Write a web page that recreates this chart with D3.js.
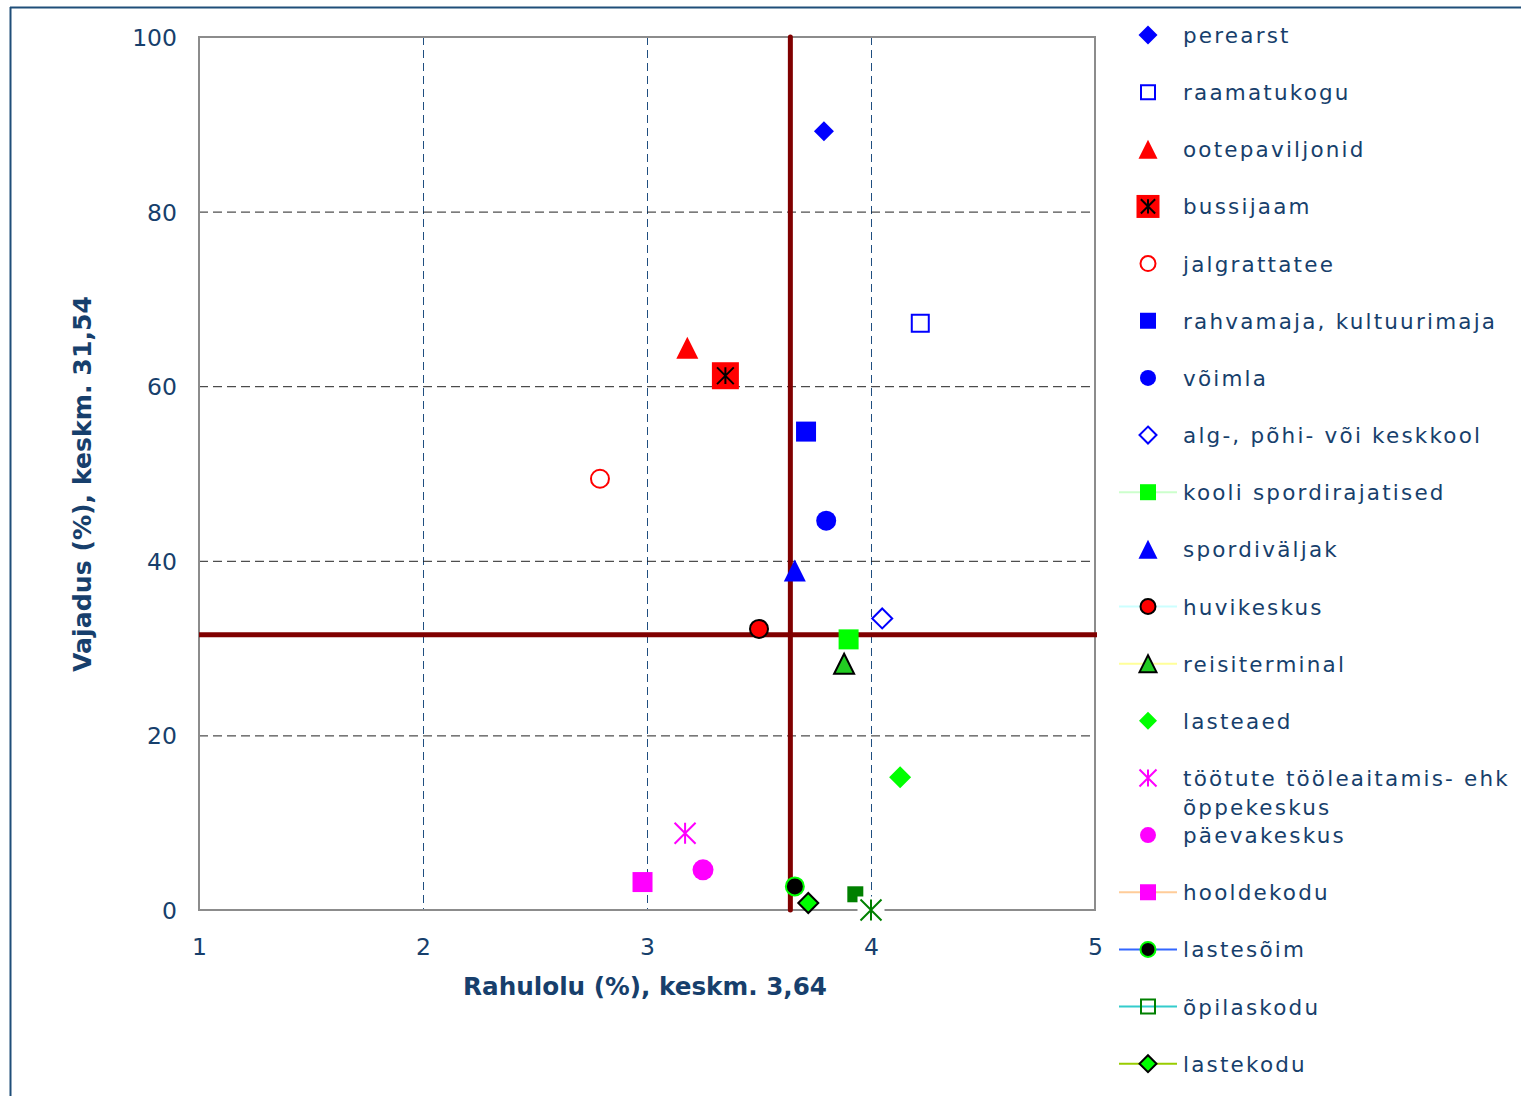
<!DOCTYPE html>
<html>
<head>
<meta charset="utf-8">
<script src="https://cdn.jsdelivr.net/npm/d3@7"></script>
<style>
  html, body { margin: 0; padding: 0; background: #fff; }
  svg { display: block; }
</style>
</head>
<body>
<svg id="chart" width="1521" height="1096"></svg>
<script>
// ---------------- DATA ----------------
const seriesNames = [
  "perearst", "raamatukogu", "ootepaviljonid", "bussijaam", "jalgrattatee",
  "rahvamaja, kultuurimaja", "võimla", "alg-, põhi- või keskkool",
  "kooli spordirajatised", "spordiväljak", "huvikeskus", "reisiterminal",
  "lasteaed", "töötute tööleaitamis- ehk\nõppekeskus", "päevakeskus",
  "hooldekodu", "lastesõim", "õpilaskodu", "lastekodu"
];
const rahulolu = [3.79, 4.22, 3.18, 3.35, 2.79, 3.71, 3.80, 4.05, 3.90, 3.66, 3.50, 3.88, 4.13, 3.17, 3.25, 2.98, 3.66, 3.93, 3.72];
const vajadus  = [89.2, 67.2, 64.4, 61.2, 49.4, 54.8, 44.6, 33.4, 31.0, 38.9, 32.2, 28.2, 15.2, 8.8, 4.6, 3.2, 2.7, 1.8, 0.8];
// an additional point without a legend entry
const extraRahulolu = [4.0];
const extraVajadus = [0];

const meanRahulolu = 3.64;
const meanVajadus = 31.54;

const xTicks = [1, 2, 3, 4, 5];
const yTicks = [0, 20, 40, 60, 80, 100];
const xTitle = "Rahulolu (%), keskm. 3,64";
const yTitle = "Vajadus (%), keskm. 31,54";

// ---------------- STYLES ----------------
const styles = [
  {shape: "diamond", size: 20, lsize: 19, fill: "#0000ff", stroke: "none"},
  {shape: "square", size: 17, lsize: 14, fill: "none", stroke: "#0000ff", sw: 2},
  {shape: "triangle", size: 22, lsize: 19, fill: "#ff0000", stroke: "none"},
  {shape: "sqast", size: 27, lsize: 23, fill: "#ff0000", stroke: "#000"},
  {shape: "circle", size: 18, lsize: 15, fill: "none", stroke: "#ff0000", sw: 2},
  {shape: "square", size: 20, lsize: 16, fill: "#0000ff", stroke: "none"},
  {shape: "circle", size: 20, lsize: 16, fill: "#0000ff", stroke: "none"},
  {shape: "diamond", size: 20, lsize: 17, fill: "none", stroke: "#0000ff", sw: 2},
  {shape: "square", size: 20, lsize: 16, fill: "#00ff00", stroke: "none", line: "#ccffcc"},
  {shape: "triangle", size: 22, lsize: 19, fill: "#0000ff", stroke: "none"},
  {shape: "circle", size: 18, lsize: 15, fill: "#ff0000", stroke: "#000", sw: 2, line: "#ccffff"},
  {shape: "triangle", size: 20, lsize: 17, fill: "#22cc22", stroke: "#000", sw: 2, line: "#ffff99"},
  {shape: "diamond", size: 22, lsize: 18, fill: "#00ff00", stroke: "none"},
  {shape: "asterisk", size: 21, lsize: 17, fill: "none", stroke: "#ff00ff", sw: 2},
  {shape: "circle", size: 21, lsize: 16, fill: "#ff00ff", stroke: "none"},
  {shape: "square", size: 20, lsize: 16, fill: "#ff00ff", stroke: "none", line: "#ffcc99"},
  {shape: "circle", size: 18, lsize: 15, fill: "#000000", stroke: "#00ff00", sw: 2, line: "#3366ff"},
  {shape: "square", size: 16, lsize: 14, fill: "#008000", stroke: "none", lfill: "none", lstroke: "#008000", sw: 2, line: "#33cccc"},
  {shape: "diamond", size: 20, lsize: 17, fill: "#00ff00", stroke: "#000", sw: 2, line: "#99cc00"}
];
const extraStyle = {shape: "asterisk", size: 21, fill: "none", stroke: "#008000", sw: 2, bg: 27};

const textColor = "#173f6c";

// ---------------- LAYOUT ----------------
const svg = d3.select("#chart");
const plot = {left: 199, right: 1095, top: 37, bottom: 910};
const x = d3.scaleLinear().domain([1, 5]).range([plot.left, plot.right]);
const y = d3.scaleLinear().domain([0, 100]).range([plot.bottom, plot.top]);

// frame
svg.append("line").attr("x1", 10.5).attr("x2", 10.5).attr("y1", 7).attr("y2", 1096)
  .attr("stroke", "#1f4e79").attr("stroke-width", 2);
svg.append("line").attr("x1", 10).attr("x2", 1521).attr("y1", 7.5).attr("y2", 7.5)
  .attr("stroke", "#1f4e79").attr("stroke-width", 2);

// grid
svg.append("g").selectAll("line").data(xTicks.filter(t => t > 1 && t < 5)).join("line")
  .attr("x1", d => x(d) + 0.5).attr("x2", d => x(d) + 0.5)
  .attr("y1", plot.top).attr("y2", plot.bottom)
  .attr("stroke", "#1f4e80").attr("stroke-width", 1).attr("stroke-dasharray", "8,5");
svg.append("g").selectAll("line").data(yTicks.filter(t => t > 0 && t < 100)).join("line")
  .attr("x1", plot.left).attr("x2", plot.right)
  .attr("y1", d => y(d) + 0.5).attr("y2", d => y(d) + 0.5)
  .attr("stroke", "#222").attr("stroke-width", 1).attr("stroke-dasharray", "9,5");

// plot border
svg.append("rect").attr("x", plot.left).attr("y", plot.top)
  .attr("width", plot.right - plot.left).attr("height", plot.bottom - plot.top)
  .attr("fill", "none").attr("stroke", "#8c8c8c").attr("stroke-width", 2);

// axes (labels)
const yAxis = d3.axisLeft(y).tickValues(yTicks).tickSize(0).tickPadding(22).tickFormat(d3.format("d"));
const gy = svg.append("g").attr("transform", `translate(${plot.left},1)`).call(yAxis);
const xAxis = d3.axisBottom(x).tickValues(xTicks).tickSize(0).tickPadding(28).tickFormat(d3.format("d"));
const gx = svg.append("g").attr("transform", `translate(0,${plot.bottom})`).call(xAxis);
[gx, gy].forEach(g => {
  g.select(".domain").remove();
  g.selectAll("text").attr("fill", textColor)
    .style("font-family", "'DejaVu Sans', Verdana, sans-serif").style("font-size", "23.5px");
});

// axis titles
svg.append("text").attr("x", 645).attr("y", 995).attr("text-anchor", "middle")
  .attr("fill", textColor).style("font-family", "'DejaVu Sans', Verdana, sans-serif")
  .style("font-weight", "bold").style("font-size", "24.5px")
  .attr("textLength", 364).attr("lengthAdjust", "spacingAndGlyphs")
  .text(xTitle);
svg.append("text").attr("transform", "translate(91,484) rotate(-90)").attr("text-anchor", "middle")
  .attr("fill", textColor).style("font-family", "'DejaVu Sans', Verdana, sans-serif")
  .style("font-weight", "bold").style("font-size", "24.5px")
  .attr("textLength", 376).attr("lengthAdjust", "spacingAndGlyphs")
  .text(yTitle);

// mean lines
svg.append("line").attr("x1", plot.left).attr("x2", plot.right + 2)
  .attr("y1", y(meanVajadus)).attr("y2", y(meanVajadus))
  .attr("stroke", "#800000").attr("stroke-width", 5);
svg.append("line").attr("x1", x(meanRahulolu)).attr("x2", x(meanRahulolu))
  .attr("y1", plot.top).attr("y2", plot.bottom)
  .attr("stroke", "#800000").attr("stroke-width", 5).attr("stroke-linecap", "round");

// marker shapes
function shapePath(shape, s) {
  const h = s / 2;
  const p = d3.path();
  if (shape === "diamond") {
    p.moveTo(0, -h); p.lineTo(h, 0); p.lineTo(0, h); p.lineTo(-h, 0); p.closePath();
  } else if (shape === "square" || shape === "sqast") {
    p.rect(-h, -h, s, s);
  } else if (shape === "triangle") {
    p.moveTo(0, -h); p.lineTo(h, h); p.lineTo(-h, h); p.closePath();
  } else if (shape === "circle") {
    p.arc(0, 0, h, 0, 2 * Math.PI);
  } else if (shape === "asterisk") {
    p.moveTo(-h, -h); p.lineTo(h, h); p.moveTo(h, -h); p.lineTo(-h, h);
    p.moveTo(0, -h); p.lineTo(0, h);
  }
  return p.toString();
}
function asteriskPath(s) {
  const h = s / 2;
  const p = d3.path();
  p.moveTo(-h, -h); p.lineTo(h, h); p.moveTo(h, -h); p.lineTo(-h, h);
  p.moveTo(0, -h); p.lineTo(0, h);
  return p.toString();
}
function drawMarker(g, st, size, fill, stroke) {
  if (st.bg) {
    g.append("rect").attr("x", -st.bg / 2).attr("y", -st.bg / 2)
      .attr("width", st.bg).attr("height", st.bg).attr("fill", "#fff");
  }
  g.append("path").attr("d", shapePath(st.shape, size))
    .attr("fill", fill).attr("stroke", stroke).attr("stroke-width", st.sw || 0);
  if (st.shape === "sqast") {
    g.append("path").attr("d", asteriskPath(size * 0.62))
      .attr("fill", "none").attr("stroke", "#000").attr("stroke-width", 2);
  }
}

const points = seriesNames.map((n, i) => ({name: n, x: rahulolu[i], y: vajadus[i], st: styles[i]}));
const markers = svg.append("g");
points.forEach(d => {
  const g = markers.append("g").attr("transform", `translate(${x(d.x)},${y(d.y)})`);
  drawMarker(g, d.st, d.st.size, d.st.fill, d.st.stroke);
});
extraRahulolu.forEach((v, i) => {
  const g = markers.append("g").attr("transform", `translate(${x(v)},${y(extraVajadus[i])})`);
  drawMarker(g, extraStyle, extraStyle.size, extraStyle.fill, extraStyle.stroke);
});

// legend
const legend = svg.append("g");
const legX = 1148, legText = 1183, legY0 = 35, legStep = 57.15;
points.forEach((d, i) => {
  const cy = legY0 + i * legStep;
  const g = legend.append("g").attr("transform", `translate(${legX},${cy})`);
  if (d.st.line) {
    g.append("line").attr("x1", -29).attr("x2", 29).attr("y1", 0).attr("y2", 0)
      .attr("stroke", d.st.line).attr("stroke-width", 2);
  }
  drawMarker(g, d.st, d.st.lsize,
    d.st.lfill !== undefined ? d.st.lfill : d.st.fill,
    d.st.lstroke !== undefined ? d.st.lstroke : d.st.stroke);
  const lines = d.name.split("\n");
  const t = legend.append("text").attr("fill", textColor)
    .style("font-family", "'DejaVu Sans', Verdana, sans-serif")
    .style("font-size", "21.5px").style("letter-spacing", "2.2px");
  lines.forEach((ln, k) => {
    t.append("tspan").attr("x", legText).attr("y", cy + 8 + k * 29).text(ln);
  });
});
</script>
</body>
</html>
